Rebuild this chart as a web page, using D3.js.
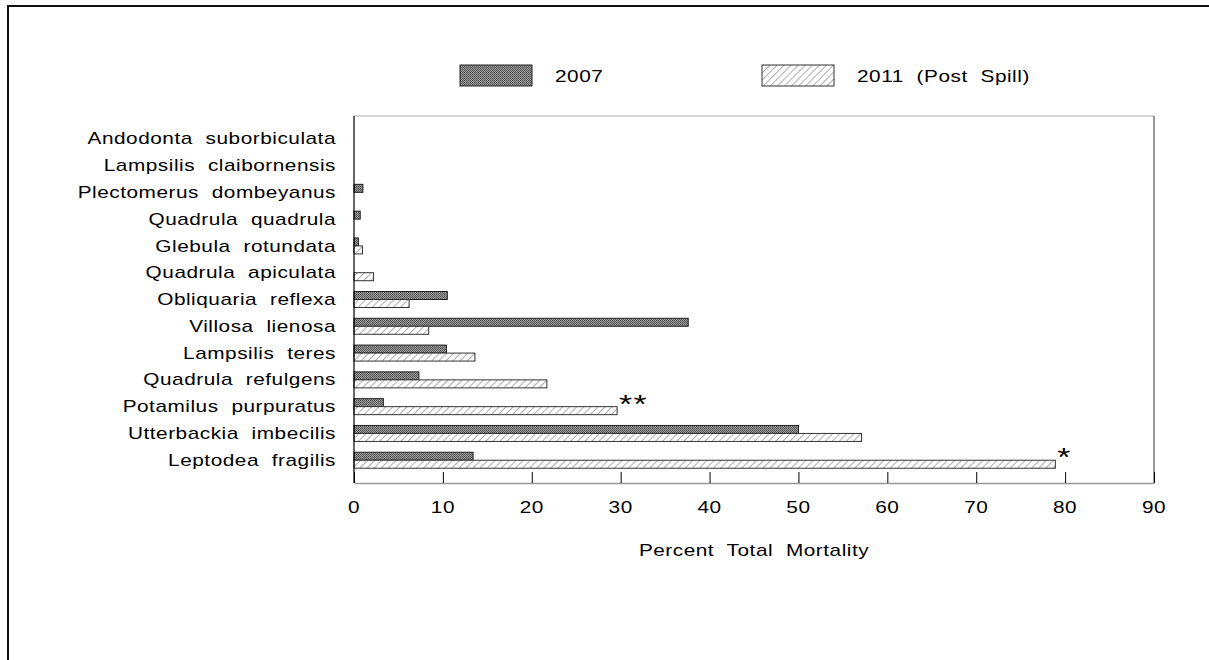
<!DOCTYPE html>
<html>
<head>
<meta charset="utf-8">
<script src="https://cdn.jsdelivr.net/npm/d3@7"></script>
<style>
  html, body { margin: 0; padding: 0; background: #fff; }
  svg { display: block; }
  text { font-family: "Liberation Sans", Arial, sans-serif; fill: #000; word-spacing: 5px; letter-spacing: 0.4px; }
</style>
</head>
<body>
<svg id="chart" width="1209" height="660"></svg>
<script>
// Species, listed top to bottom
const species = [
  "Andodonta suborbiculata",
  "Lampsilis claibornensis",
  "Plectomerus dombeyanus",
  "Quadrula quadrula",
  "Glebula rotundata",
  "Quadrula apiculata",
  "Obliquaria reflexa",
  "Villosa lienosa",
  "Lampsilis teres",
  "Quadrula refulgens",
  "Potamilus purpuratus",
  "Utterbackia imbecilis",
  "Leptodea fragilis"
];
// Percent total mortality per survey year
const mort2007 = [0, 0, 1.0, 0.7, 0.5, 0, 10.5, 37.6, 10.4, 7.3, 3.3, 50.0, 13.4];
const mort2011 = [0, 0, 0, 0, 0.95, 2.2, 6.2, 8.4, 13.6, 21.7, 29.6, 57.1, 78.9];
// Significance markers placed after the 2011 bar
const marks = ["", "", "", "", "", "", "", "", "", "", "**", "", "*"];
const seriesNames = ["2007", "2011 (Post Spill)"];
const xTicks = [0, 10, 20, 30, 40, 50, 60, 70, 80, 90];
const axisTitle = "Percent Total Mortality";

const svg = d3.select("#chart");
const SX = 1.3; // horizontal stretch of the lettering

const plotL = 354, plotR = 1154, plotT = 116, plotB = 483;
const x = d3.scaleLinear().domain([0, 90]).range([plotL, plotR]);
const y = d3.scalePoint().domain(species).range([plotT, plotB]).padding(0.85);
const barH = 8;

// fill patterns
const defs = svg.append("defs");
const dots = defs.append("pattern").attr("id", "dots")
  .attr("patternUnits", "userSpaceOnUse").attr("width", 2).attr("height", 2);
dots.append("rect").attr("width", 2).attr("height", 2).attr("fill", "#9a9a9a");
dots.append("rect").attr("width", 1).attr("height", 1).attr("fill", "#505050");
dots.append("rect").attr("x", 1).attr("y", 1).attr("width", 1).attr("height", 1).attr("fill", "#606060");

const hatch = defs.append("pattern").attr("id", "hatch")
  .attr("patternUnits", "userSpaceOnUse").attr("width", 5).attr("height", 5)
  .attr("patternTransform", "rotate(45)");
hatch.append("rect").attr("width", 5).attr("height", 5).attr("fill", "#fff");
hatch.append("line").attr("x1", 0).attr("y1", 0).attr("x2", 0).attr("y2", 5)
  .attr("stroke", "#9a9a9a").attr("stroke-width", 1.6);

const fills = ["url(#dots)", "url(#hatch)"];
const strokes = ["#222", "#333"];

// page frame
svg.append("rect").attr("x", 8).attr("y", 6).attr("width", 1220).attr("height", 680)
  .attr("fill", "none").attr("stroke", "#111").attr("stroke-width", 2);

// stretched text helper
function label(g, tx, ty, str, anchor, size) {
  const t = g.append("g").attr("transform", `translate(${tx},${ty}) scale(${SX},1)`);
  t.append("text").attr("text-anchor", anchor).attr("dominant-baseline", "central")
    .attr("font-size", size).text(str);
  return t;
}

// plot frame: top and right edges
svg.append("line").attr("x1", plotL).attr("x2", plotR).attr("y1", plotT).attr("y2", plotT)
  .attr("stroke", "#aaa").attr("stroke-width", 1.2);
svg.append("line").attr("x1", plotR).attr("x2", plotR).attr("y1", plotT).attr("y2", plotB)
  .attr("stroke", "#555").attr("stroke-width", 1.2);

// bars
const rows = species.map((s, i) => ({ s, v: [mort2007[i], mort2011[i]], m: marks[i] }));
const gBars = svg.append("g");
rows.forEach(r => {
  [0, 1].forEach(k => {
    gBars.append("rect")
      .attr("x", x(0))
      .attr("y", y(r.s) - barH + k * barH)
      .attr("width", x(r.v[k]) - x(0))
      .attr("height", barH)
      .attr("fill", fills[k])
      .attr("stroke", strokes[k])
      .attr("stroke-width", 1);
  });
  if (r.m) {
    label(svg, x(r.v[1]) + 2, y(r.s) - 3, r.m, "start", 26).select("text").style("letter-spacing", "1px");
  }
});

// x axis with inward ticks
const xAxis = d3.axisBottom(x).tickValues(xTicks).tickSize(-11).tickSizeOuter(0).tickFormat(d3.format("d"));
const gx = svg.append("g").attr("transform", `translate(0,${plotB})`).call(xAxis);
gx.select(".domain").attr("stroke", "#999").attr("stroke-width", 1.5);
gx.selectAll(".tick line").attr("stroke", "#000");
gx.selectAll(".tick text").remove();
xTicks.forEach(t => label(svg, x(t), 507, String(t), "middle", 16));

// left axis line
svg.append("line").attr("x1", plotL).attr("x2", plotL).attr("y1", plotT).attr("y2", plotB)
  .attr("stroke", "#000").attr("stroke-width", 1.2);

// category labels
species.forEach(s => label(svg, 336, y(s), s, "end", 16));

// axis title
label(svg, (plotL + plotR) / 2, 550, axisTitle, "middle", 16);

// legend
const legendX = [460, 762];
seriesNames.forEach((n, k) => {
  svg.append("rect").attr("x", legendX[k]).attr("y", 65).attr("width", 72).attr("height", 21)
    .attr("fill", fills[k]).attr("stroke", strokes[k]).attr("stroke-width", 1);
  label(svg, legendX[k] + 95, 76, n, "start", 16);
});
</script>
</body>
</html>
